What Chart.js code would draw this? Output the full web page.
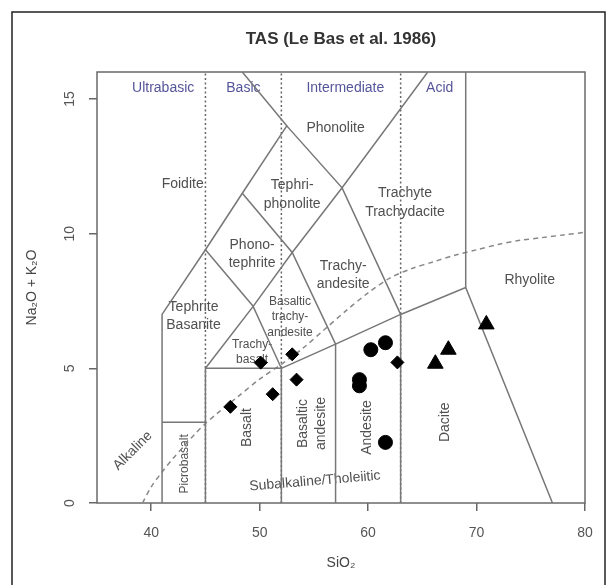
<!DOCTYPE html>
<html>
<head>
<meta charset="utf-8">
<script src="https://cdn.jsdelivr.net/npm/chart.js@4.4.1/dist/chart.umd.min.js"></script>
<style>
  body { margin: 0; background: #fff; }
  canvas { display: block; }
</style>
</head>
<body>
<canvas id="tas" width="611" height="585"></canvas>
<script>
// samples (SiO2 vs Na2O+K2O)
const diamondSiO2 = [47.3, 51.2, 50.1, 53.0, 53.4, 62.7];
const diamondAlk  = [3.57, 4.04, 5.21, 5.52, 4.58, 5.22];
const circleSiO2  = [59.2, 59.2, 60.25, 61.6, 61.6];
const circleAlk   = [4.58, 4.35, 5.69, 5.95, 2.25];
const triangleSiO2 = [66.2, 67.4, 70.9];
const triangleAlk  = [5.17, 5.69, 6.63];

// axis ticks
const xTicks = [40, 50, 60, 70, 80];
const yTicks = [0, 5, 10, 15];

// TAS field boundaries (Le Bas et al. 1986), [SiO2, alkalis]
const foiditeEdge   = [[41, 0], [41, 7], [45, 9.4], [48.4, 11.5], [52.5, 14], [48.4, 16]];
const picroTop      = [[41, 3], [45, 3]];
const basaltBox     = [[45, 0], [45, 5], [52, 5], [52, 0]];
const trachyBasalt  = [[45, 5], [49.4, 7.3], [52, 5]];
const tephriteTop   = [[45, 9.4], [49.4, 7.3]];
const phonoTephTop  = [[48.4, 11.5], [53, 9.3], [57, 5.9]];
const trachyAndLeft = [[49.4, 7.3], [53, 9.3], [57.6, 11.7], [65.5, 16]];
const phonoliteBase = [[52.5, 14], [57.6, 11.7], [63, 7]];
const subalkTop     = [[52, 5], [57, 5.9], [63, 7], [69, 8], [77, 0]];
const andesiteLeft  = [[57, 0], [57, 5.9]];
const daciteLeft    = [[63, 0], [63, 7]];
const rhyoliteLeft  = [[69, 8], [69, 16]];

// silica class dividers
const classDividers = [45, 52, 63];

// alkaline / subalkaline divide (Irvine & Baragar)
const divideSiO2 = [39.2, 40, 41, 42, 43, 44, 45, 46, 48, 50, 52, 54, 56, 58, 60, 62, 64, 66, 68, 70, 72, 74, 76, 78, 80];
const divideAlk  = [0, 0.6, 1.15, 1.65, 2.1, 2.55, 2.95, 3.3, 3.95, 4.6, 5.15, 5.75, 6.45, 7.15, 7.8, 8.35, 8.7, 8.95, 9.2, 9.4, 9.6, 9.75, 9.85, 9.95, 10.05];

// field names: [text, SiO2, alkalis, rotation(deg), size]
const fieldNames = [
  ['Foidite', 42.9, 11.85, 0, 14],
  ['Phonolite', 57.0, 13.9, 0, 14],
  ['Tephri-\nphonolite', 53.0, 11.45, 0, 14],
  ['Phono-\ntephrite', 49.3, 9.25, 0, 14],
  ['Trachyte\nTrachydacite', 63.4, 11.15, 0, 14],
  ['Trachy-\nandesite', 57.7, 8.45, 0, 14],
  ['Tephrite\nBasanite', 43.9, 6.95, 0, 14],
  ['Basaltic\ntrachy-\nandesite', 52.8, 6.9, 0, 12],
  ['Trachy-\nbasalt', 49.3, 5.6, 0, 12],
  ['Basalt', 48.8, 2.8, -90, 14],
  ['Basaltic\nandesite', 54.85, 2.95, -90, 14],
  ['Andesite', 59.9, 2.8, -90, 14],
  ['Dacite', 67.1, 3.0, -90, 14],
  ['Picrobasalt', 43.1, 1.45, -90, 12],
  ['Rhyolite', 74.9, 8.26, 0, 14],
  ['Subalkaline/Tholeiitic', 55.1, 0.81, -4.8, 14],
  ['Alkaline', 38.3, 1.94, -45, 14]
];
const classNames = [
  ['Ultrabasic', 41.1, 15.4],
  ['Basic', 48.5, 15.4],
  ['Intermediate', 57.9, 15.4],
  ['Acid', 66.6, 15.4]
];

const FONT = '"Liberation Sans", Arial, sans-serif';
const pts = arr => arr.map(p => ({x: p[0], y: p[1]}));
const zip = (xs, ys) => xs.map((x, i) => ({x: x, y: ys[i]}));

function boundary(data) {
  return { data: pts(data), showLine: true, borderColor: '#777', borderWidth: 1.5,
           pointRadius: 0, fill: false, order: 5 };
}

const datasets = [
  { data: zip(diamondSiO2, diamondAlk), pointStyle: 'rectRot', pointRadius: 6.5,
    backgroundColor: '#000', borderColor: '#000', borderWidth: 1, order: 0 },
  { data: zip(circleSiO2, circleAlk), pointStyle: 'circle', pointRadius: 7,
    backgroundColor: '#000', borderColor: '#000', borderWidth: 1, order: 0 },
  { data: zip(triangleSiO2, triangleAlk), pointStyle: 'triangle', pointRadius: 9,
    backgroundColor: '#000', borderColor: '#000', borderWidth: 1, order: 0 },
  { data: zip(divideSiO2, divideAlk), showLine: true, borderColor: '#888', borderWidth: 1.5,
    borderDash: [5, 4], pointRadius: 0, tension: 0.3, order: 6 }
];
classDividers.forEach(v => datasets.push({
  data: [{x: v, y: 0}, {x: v, y: 16}], showLine: true, borderColor: '#666', borderWidth: 1.5,
  borderDash: [2, 2.5], pointRadius: 0, order: 7
}));
[foiditeEdge, picroTop, basaltBox, trachyBasalt, tephriteTop, phonoTephTop, trachyAndLeft,
 phonoliteBase, subalkTop, andesiteLeft, daciteLeft, rhyoliteLeft].forEach(l => datasets.push(boundary(l)));

function drawLabel(ctx, text, px, py, rot, size, color) {
  const lines = text.split('\n');
  const lh = size * 1.3;
  ctx.save();
  ctx.translate(px, py);
  ctx.rotate(rot * Math.PI / 180);
  ctx.font = size + 'px ' + FONT;
  ctx.fillStyle = color;
  ctx.textAlign = 'center';
  ctx.textBaseline = 'middle';
  lines.forEach((ln, i) => ctx.fillText(ln, 0, (i - (lines.length - 1) / 2) * lh));
  ctx.restore();
}

const tasDecor = {
  id: 'tasDecor',
  beforeDraw(chart) {
    const ctx = chart.ctx;
    ctx.save();
    ctx.fillStyle = '#fff';
    ctx.fillRect(0, 0, chart.width, chart.height);
    ctx.strokeStyle = '#222';
    ctx.lineWidth = 1.5;
    ctx.strokeRect(12, 12, 593, 620);
    ctx.restore();
  },
  beforeDatasetsDraw(chart) {
    const {ctx, chartArea: a, scales: {x, y}} = chart;
    ctx.save();
    ctx.strokeStyle = '#6a6a6a';
    ctx.lineWidth = 1.5;
    ctx.strokeRect(a.left, a.top, a.right - a.left, a.bottom - a.top);
    ctx.restore();
    fieldNames.forEach(f => drawLabel(ctx, f[0], x.getPixelForValue(f[1]), y.getPixelForValue(f[2]), f[3], f[4], '#505050'));
    classNames.forEach(f => drawLabel(ctx, f[0], x.getPixelForValue(f[1]), y.getPixelForValue(f[2]), 0, 14, '#55559a'));
  },
  afterDraw(chart) {
    const a = chart.chartArea;
    const ctx = chart.ctx;
    ctx.save();
    ctx.font = 'bold 17px ' + FONT;
    ctx.fillStyle = '#333';
    ctx.textAlign = 'center';
    ctx.textBaseline = 'middle';
    ctx.fillText('TAS (Le Bas et al. 1986)', (a.left + a.right) / 2, 39);
    ctx.restore();
  }
};

new Chart(document.getElementById('tas'), {
  type: 'scatter',
  data: { datasets: datasets },
  plugins: [tasDecor],
  options: {
    responsive: false,
    animation: false,
    layout: { padding: { top: 72, right: 26, bottom: 0, left: 0 } },
    plugins: { legend: { display: false }, tooltip: { enabled: false } },
    scales: {
      x: {
        type: 'linear', min: 35, max: 80,
        afterBuildTicks: s => { s.ticks = xTicks.map(v => ({value: v})); },
        afterFit: s => { s.height = 82; },
        border: { display: false },
        grid: { drawOnChartArea: false, drawTicks: true, tickLength: 8, color: '#666', lineWidth: 1.5 },
        ticks: { padding: 14, color: '#555', font: { family: FONT, size: 14 }, maxRotation: 0 },
        title: { display: true, text: 'SiO\u2082', color: '#444', font: { family: FONT, size: 14 },
                 padding: { top: 0, bottom: 13 } }
      },
      y: {
        type: 'linear', min: 0, max: 16,
        afterBuildTicks: s => { s.ticks = yTicks.map(v => ({value: v})); },
        afterFit: s => { s.width = 97; },
        border: { display: false },
        grid: { drawOnChartArea: false, drawTicks: true, tickLength: 8, color: '#666', lineWidth: 1.5 },
        ticks: { padding: 11, color: '#555', font: { family: FONT, size: 14 },
                 minRotation: 90, maxRotation: 90, crossAlign: 'center' },
        title: { display: true, text: 'Na\u2082O + K\u2082O', color: '#444', font: { family: FONT, size: 14 },
                 padding: { top: 24, bottom: 0 } }
      }
    }
  }
});
</script>
</body>
</html>
